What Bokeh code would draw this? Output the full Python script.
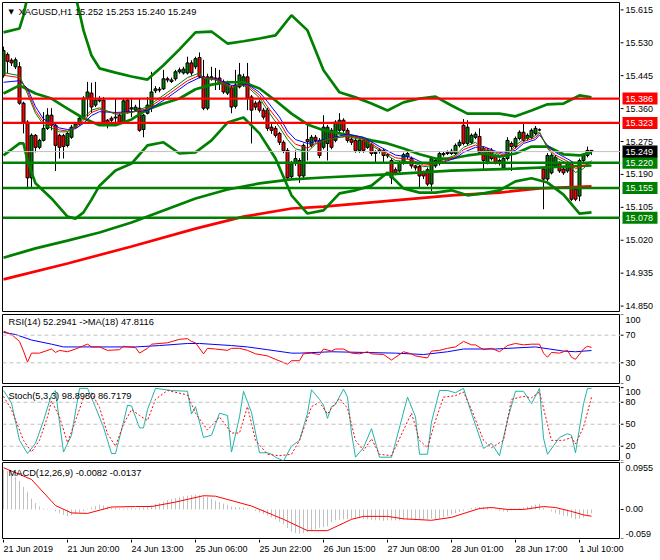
from bokeh.plotting import figure
from bokeh.layouts import column, row
from bokeh.models import Range1d, Span, Label, ColumnDataSource
from bokeh.core.properties import value
from bokeh.embed import file_html
from bokeh.resources import INLINE

# ---------------- data ----------------
title_text = "XAGUSD,H1 15.252 15.253 15.240 15.249"
rsi_text = "RSI(14) 52.2941  ->MA(18) 47.8116"
stoch_text = "Stoch(5,3,3) 98.8950 86.7179"
macd_text = "MACD(12,26,9) -0.0082 -0.0137"

opens = [15.445,15.500,15.485,15.468,15.468,15.374,15.325,15.181,15.291,15.260,
         15.278,15.309,15.343,15.317,15.291,15.290,15.265,15.286,15.312,15.320,
         15.338,15.387,15.400,15.369,15.380,15.382,15.330,15.335,15.336,15.343,
         15.325,15.382,15.362,15.356,15.361,15.306,15.348,15.364,15.406,15.410,
         15.411,15.437,15.430,15.437,15.455,15.452,15.452,15.478,15.468,15.492,
         15.442,15.361,15.437,15.439,15.439,15.429,15.400,15.413,15.366,15.416,
         15.421,15.442,15.390,15.374,15.377,15.356,15.356,15.312,15.309,15.296,
         15.273,15.252,15.184,15.218,15.226,15.186,15.280,15.265,15.286,15.278,
         15.260,15.270,15.304,15.278,15.304,15.330,15.304,15.281,15.278,15.252,
         15.278,15.260,15.268,15.247,15.250,15.252,15.241,15.226,15.202,15.199,
         15.220,15.236,15.231,15.212,15.210,15.195,15.202,15.165,15.212,15.218,
         15.244,15.247,15.244,15.244,15.265,15.317,15.270,15.273,15.286,15.288,
         15.257,15.221,15.252,15.236,15.226,15.207,15.231,15.270,15.262,15.283,
         15.299,15.283,15.286,15.296,15.305,15.204,15.178,15.194,15.212,15.218,
         15.204,15.199,15.218,15.152,15.134,15.226,15.239,15.252]
highs = [15.520,15.505,15.490,15.492,15.480,15.378,15.330,15.296,15.294,15.282,
         15.351,15.361,15.361,15.320,15.295,15.295,15.300,15.318,15.325,15.340,
         15.392,15.429,15.427,15.429,15.392,15.390,15.333,15.340,15.387,15.348,
         15.387,15.387,15.387,15.370,15.387,15.346,15.390,15.455,15.418,15.416,
         15.460,15.442,15.440,15.460,15.466,15.468,15.494,15.485,15.494,15.505,
         15.486,15.450,15.468,15.465,15.460,15.435,15.432,15.420,15.460,15.478,
         15.450,15.478,15.395,15.380,15.382,15.362,15.362,15.320,15.315,15.300,
         15.278,15.258,15.225,15.252,15.232,15.270,15.322,15.292,15.292,15.284,
         15.343,15.318,15.310,15.330,15.348,15.335,15.310,15.286,15.283,15.283,
         15.283,15.283,15.272,15.252,15.258,15.258,15.245,15.232,15.208,15.225,
         15.246,15.250,15.236,15.215,15.215,15.200,15.208,15.236,15.232,15.250,
         15.248,15.252,15.256,15.270,15.280,15.333,15.330,15.296,15.300,15.309,
         15.262,15.258,15.258,15.242,15.231,15.236,15.286,15.275,15.288,15.304,
         15.322,15.296,15.309,15.315,15.309,15.210,15.245,15.245,15.240,15.224,
         15.210,15.224,15.224,15.158,15.231,15.244,15.262,15.253]
lows = [15.440,15.452,15.470,15.462,15.370,15.296,15.152,15.155,15.247,15.255,
        15.275,15.305,15.304,15.199,15.231,15.231,15.260,15.282,15.308,15.316,
        15.335,15.338,15.348,15.364,15.376,15.320,15.309,15.325,15.317,15.320,
        15.320,15.347,15.338,15.352,15.300,15.286,15.345,15.351,15.400,15.402,
        15.408,15.428,15.426,15.432,15.450,15.448,15.448,15.445,15.462,15.438,
        15.356,15.356,15.432,15.408,15.408,15.398,15.395,15.348,15.360,15.412,
        15.416,15.356,15.270,15.356,15.350,15.332,15.302,15.295,15.285,15.266,
        15.245,15.176,15.178,15.212,15.168,15.180,15.226,15.260,15.272,15.232,
        15.255,15.226,15.255,15.273,15.300,15.298,15.272,15.266,15.246,15.246,
        15.246,15.256,15.238,15.221,15.244,15.221,15.232,15.165,15.188,15.195,
        15.215,15.230,15.205,15.200,15.155,15.178,15.160,15.147,15.207,15.213,
        15.236,15.240,15.240,15.240,15.260,15.265,15.265,15.268,15.281,15.242,
        15.199,15.216,15.226,15.216,15.213,15.202,15.226,15.199,15.257,15.278,
        15.273,15.278,15.281,15.291,15.302,15.100,15.173,15.190,15.207,15.194,
        15.189,15.194,15.121,15.121,15.121,15.221,15.234,15.240]
closes = [15.510,15.482,15.478,15.486,15.374,15.325,15.181,15.291,15.260,15.278,
          15.309,15.343,15.317,15.265,15.260,15.262,15.296,15.312,15.320,15.335,
          15.387,15.403,15.364,15.382,15.386,15.325,15.317,15.330,15.338,15.325,
          15.380,15.351,15.359,15.364,15.304,15.343,15.369,15.403,15.411,15.408,
          15.437,15.434,15.434,15.455,15.460,15.462,15.478,15.452,15.489,15.442,
          15.361,15.442,15.442,15.437,15.426,15.403,15.426,15.364,15.421,15.447,
          15.442,15.387,15.356,15.364,15.356,15.338,15.309,15.304,15.291,15.273,
          15.252,15.181,15.218,15.231,15.186,15.265,15.275,15.286,15.278,15.239,
          15.312,15.312,15.260,15.325,15.330,15.304,15.278,15.273,15.252,15.278,
          15.252,15.278,15.244,15.244,15.252,15.239,15.238,15.181,15.194,15.220,
          15.241,15.244,15.212,15.207,15.186,15.186,15.165,15.231,15.226,15.244,
          15.241,15.244,15.250,15.265,15.273,15.270,15.312,15.291,15.294,15.247,
          15.226,15.252,15.231,15.221,15.218,15.231,15.278,15.262,15.283,15.299,
          15.278,15.291,15.304,15.309,15.305,15.178,15.239,15.239,15.234,15.199,
          15.194,15.218,15.126,15.126,15.226,15.239,15.252,15.249]

# short moving averages (blue / red / green thin)
ma_bars = [0,4,6,8,10,12,14,16,18,20, 22,24,28,32,36,41,46,49,50,53,
           57,59,61,64,66,69,71,73,76,78, 81,86,90,94,98,102,105,107,110,113,
           115,118,120,123,125,128,130,133,134,136, 138,141,143,145,147]
ma_red = [15.446,15.440,15.405,15.355,15.325,15.317,15.305,15.302,15.311,15.330,
          15.350,15.358,15.348,15.350,15.360,15.395,15.432,15.446,15.440,15.436,
          15.416,15.420,15.420,15.395,15.365,15.325,15.290,15.268,15.258,15.270,
          15.280,15.290,15.282,15.256,15.233,15.228,15.214,15.216,15.224,15.236,
          15.254,15.266,15.258,15.248,15.240,15.258,15.275,15.285,15.297,15.260,
          15.240,15.224,15.205,15.212,15.220]
ma_blue = [15.428,15.432,15.412,15.365,15.333,15.322,15.310,15.306,15.308,15.322,
           15.342,15.352,15.350,15.352,15.355,15.388,15.425,15.440,15.440,15.438,
           15.420,15.420,15.423,15.402,15.378,15.338,15.302,15.280,15.270,15.275,
           15.282,15.294,15.286,15.262,15.240,15.234,15.219,15.218,15.222,15.232,
           15.247,15.260,15.262,15.250,15.245,15.252,15.270,15.280,15.292,15.265,
           15.247,15.230,15.218,15.220,15.222]
ma_green = [15.453,15.445,15.398,15.348,15.318,15.310,15.300,15.300,15.314,15.336,
            15.356,15.362,15.345,15.350,15.365,15.402,15.440,15.452,15.438,15.434,
            15.412,15.422,15.416,15.388,15.355,15.312,15.280,15.256,15.248,15.268,
            15.282,15.288,15.278,15.252,15.226,15.222,15.210,15.212,15.228,15.240,
            15.260,15.273,15.254,15.245,15.234,15.265,15.280,15.290,15.300,15.257,
            15.234,15.218,15.195,15.205,15.226]

# Bollinger bands
bb_up_bars = [0,4,5,6,8,12,16,18,19,20, 22,24,28,32,36,40,44,48,52,56,
              60,64,68,72,76,80,84,88,92,96, 100,104,108,112,116,120,124,128,132,136,
              140,144,147]
bb_up = [15.557,15.567,15.601,15.650,15.700,15.730,15.700,15.650,15.608,15.562,
         15.497,15.464,15.453,15.443,15.435,15.472,15.513,15.557,15.559,15.528,
         15.534,15.541,15.549,15.601,15.562,15.459,15.402,15.389,15.373,15.355,
         15.376,15.386,15.391,15.368,15.347,15.347,15.347,15.340,15.355,15.371,
         15.373,15.394,15.389]
bb_mid_bars = [0,4,8,12,16,20,24,28,32,36, 40,44,48,52,56,60,64,68,72,76,
               80,84,88,92,96,100,104,108,112,116, 120,124,128,132,136,140,144,147]
bb_mid = [15.399,15.420,15.399,15.386,15.360,15.335,15.317,15.317,15.332,15.358,
          15.373,15.386,15.410,15.422,15.428,15.428,15.412,15.381,15.347,15.319,
          15.304,15.296,15.288,15.278,15.270,15.257,15.242,15.231,15.231,15.239,
          15.244,15.236,15.244,15.262,15.262,15.242,15.239,15.247]
bb_low_bars = [0,4,5,6,8,12,16,18,20,22, 24,28,32,36,40,44,48,52,56,60,
               64,68,72,76,80,84,88,92,96,100, 104,108,112,116,120,124,128,132,136,140,
               144,147]
bb_low = [15.239,15.270,15.270,15.226,15.167,15.128,15.081,15.076,15.092,15.125,
          15.161,15.200,15.218,15.265,15.273,15.244,15.247,15.278,15.324,15.337,
          15.296,15.231,15.136,15.089,15.097,15.141,15.149,15.161,15.195,15.154,
          15.143,15.143,15.149,15.136,15.141,15.149,15.172,15.180,15.169,15.138,
          15.089,15.092]

# long moving averages
ma_long_g_bars = [0,8,16,24,32,40,48,56,64,72,80,96,112,128,147]
ma_long_g = [14.975,14.999,15.019,15.040,15.066,15.097,15.128,15.151,15.167,15.177,
             15.182,15.190,15.200,15.205,15.213]
ma_long_r_bars = [0,16,32,48,60,72,80,112,124,134,147]
ma_long_r = [14.919,14.960,15.004,15.050,15.081,15.102,15.107,15.136,15.143,15.154,15.159]

resistance_levels = [15.386, 15.323]
support_levels = [15.220, 15.155, 15.078]
bid_price = 15.249
price_ticks = [15.615, 15.530, 15.445, 15.360, 15.275, 15.190, 15.105, 15.020, 14.935, 14.850]

# RSI
rsi_bars = [0,2,4,5,6,7,9,12,13,14,16,18,21,22,24,26,29,30,33,34,36,37,41,44,46,47,48,50,51,53,
            56,57,59,61,63,66,68,71,72,74,75,77,79,80,82,83,85,87,89,91,92,95,97,100,102,103,106,107,
            109,111,113,114,115,117,118,120,122,124,126,128,130,132,134,135,136,137,139,141,142,143,
            145,146,147]
rsi_vals = [76,71,61,47,31,44,44,50,45,48,46,50,57,53,53,48,49,54,52,44,51,57,59,64,65,61,59,43,51,50,
            48,51,51,48,43,40,35,28,33,33,43,44,42,50,47,50,50,44,43,46,43,42,34,46,43,40,37,47,
            48,51,53,57,61,56,56,49,51,46,55,58,56,57,57,44,38,45,44,48,38,35,
            50,54,52.3]
rsi_ma_bars = [0,3,7,12,15,20,33,39,46,49,57,61,66,72,74,82,90,98,105,111,115,123,133,140,143,147]
rsi_ma_vals = [74,71,63,57,53,53,53,55,58,58,55,53,49,44,44,46,45,44,42,46,50,50,53,47,46,47.8]
rsi_levels = [30, 70]
rsi_scale_ticks = [100, 70, 30, 0]

# Stochastic
stk_bars = [0,2,4,6,8,10,12,13,14,15,17,19,21,23,25,27,28,30,31,32,34,35,36,38,42,46,47,48,50,52,
            54,56,57,59,60,62,64,66,67,68,70,72,74,76,77,79,80,81,82,83,85,86,87,88,90,92,93,94,97,98,
            101,103,104,106,107,109,111,113,115,117,120,122,124,126,128,130,132,134,135,136,139,141,142,143,
            145,146,147]
stk_vals = [96,79,28,10,24,55,90,96,53,12,35,99,99,73,46,10,10,53,76,75,45,45,70,99,96,95,64,74,32,35,
            65,62,12,60,95,66,11,11,9,5,0,20,28,65,97,84,76,58,74,77,98,87,38,5,18,44,25,5,5,25,
            87,60,9,9,53,96,96,93,99,65,17,24,7,56,95,95,78,99,31,9,32,37,35,11,
            78,99,98.9]
std_bars = [0,2,5,7,9,11,12,14,16,18,20,22,24,26,28,30,32,34,36,38,41,46,48,51,54,57,59,61,63,66,
            69,72,74,77,79,81,82,84,86,88,90,92,94,97,100,102,104,106,108,110,113,115,117,120,122,125,
            127,130,132,134,136,137,140,142,143,145,147]
std_vals = [88,70,28,12,28,60,82,60,25,55,86,93,73,37,20,50,70,62,55,84,96,90,65,42,60,38,38,74,28,9,
            7,9,28,74,80,64,72,85,72,28,14,30,9,7,42,65,28,18,55,87,89,94,70,28,18,28,
            84,88,86,94,50,28,28,32,23,46,86.7]
stoch_levels = [20, 50, 80]
stoch_scale_ticks = [100, 80, 50, 20, 0]

# MACD
macd_hist = [0.081,0.078,0.073,0.066,0.058,0.046,0.036,0.022,0.013,0.006,
             0.002,0.001,0.000,-0.004,-0.007,-0.011,-0.014,-0.012,-0.009,-0.006,
             -0.003,0.001,0.004,0.007,0.010,0.008,0.006,0.004,0.003,0.002,
             0.002,0.002,0.003,0.002,0.003,0.004,0.006,0.009,0.011,0.013,
             0.016,0.019,0.021,0.023,0.025,0.027,0.028,0.029,0.030,0.029,
             0.027,0.025,0.022,0.018,0.015,0.012,0.009,0.006,0.005,0.004,
             0.004,0.002,0.000,-0.003,-0.006,-0.009,-0.012,-0.016,-0.020,-0.025,
             -0.030,-0.038,-0.045,-0.048,-0.049,-0.048,-0.046,-0.044,-0.040,-0.037,
             -0.036,-0.034,-0.026,-0.022,-0.021,-0.020,-0.020,-0.019,-0.018,-0.018,
             -0.019,-0.020,-0.021,-0.022,-0.022,-0.023,-0.022,-0.022,-0.022,-0.022,
             -0.021,-0.020,-0.021,-0.022,-0.021,-0.021,-0.020,-0.019,-0.020,-0.019,
             -0.016,-0.013,-0.010,-0.008,-0.005,-0.003,0.000,0.003,0.004,0.005,
             0.005,0.004,0.002,-0.001,-0.003,-0.004,-0.005,-0.002,0.000,0.002,
             0.004,0.006,0.008,0.010,0.012,0.004,0.000,-0.004,-0.007,-0.010,
             -0.013,-0.014,-0.017,-0.020,-0.019,-0.016,-0.011,-0.008]
macd_sig_bars = [0,7,13,17,21,27,33,37,43,50,53,62,70,76,81,87,90,96,100,107,112,119,122,126,130,135,138,142,145,147]
macd_sig = [0.085,0.061,0.008,-0.007,-0.008,0.005,0.006,0.006,0.015,0.028,0.027,0.007,-0.020,-0.043,-0.043,
            -0.020,-0.014,-0.014,-0.019,-0.022,-0.016,0.002,0.004,0.000,0.000,0.006,0.004,-0.004,-0.011,-0.0137]
macd_scale_ticks = [0.0955, 0.0, -0.059]
macd_scale_labels = ["0.0955", "0.00", "-0.059"]

time_tick_bars = [0, 16, 32, 48, 64, 80, 96, 112, 128, 144]
time_tick_labels = ["21 Jun 2019", "21 Jun 20:00", "24 Jun 13:00", "25 Jun 06:00", "25 Jun 22:00",
                    "26 Jun 15:00", "27 Jun 08:00", "28 Jun 01:00", "28 Jun 17:00", "1 Jul 10:00"]

# ---------------- styling / layout ----------------
FONT = "Liberation Sans"
FS = "9px"
FS_T = "9.3px"
FW = 618          # chart frame width (px)
SW = 38           # right scale strip width (px)
X0, X1 = -0.25, 154.25
xr = Range1d(X0, X1)
GREEN = "#008000"
RED = "#ff0000"
SILVER = "#c0c0c0"


def make_panel(frame_h, yr, top):
    p = figure(frame_width=FW, frame_height=frame_h, x_range=xr, y_range=yr,
               output_backend="svg", toolbar_location=None,
               x_axis_location=None, y_axis_location=None,
               min_border_left=2, min_border_right=0, min_border_top=top, min_border_bottom=1,
               background_fill_color="white", border_fill_color="white")
    p.outline_line_color = "black"
    p.outline_line_width = 1
    p.grid.visible = False
    return p


def make_strip(frame_h, yr, top):
    s = figure(frame_width=SW, frame_height=frame_h, x_range=Range1d(0, SW), y_range=yr,
               output_backend="svg", toolbar_location=None,
               x_axis_location=None, y_axis_location=None,
               min_border_left=0, min_border_right=0, min_border_top=top, min_border_bottom=1,
               background_fill_color="white", border_fill_color="white")
    s.outline_line_color = None
    s.grid.visible = False
    return s


def scale_labels(s, ys, labels, label_ys=None):
    n = len(ys)
    s.segment(x0=[0] * n, y0=ys, x1=[3] * n, y1=ys, line_color="black", line_width=1)
    s.text(x=[5] * n, y=label_ys if label_ys is not None else ys, text=labels,
           text_font=value(FONT), text_font_size=FS, text_color="black",
           text_baseline="middle", text_align="left")


def price_box(s, price, color, ppu):
    h = 12.0 / ppu
    s.quad(left=2, right=37, bottom=price - h / 2, top=price + h / 2, fill_color=color, line_color=None)
    s.text(x=[5], y=[price], text=[f"{price:.3f}"], text_font=value(FONT), text_font_size=FS,
           text_color="white", text_baseline="middle", text_align="left")


def corner_text(p, text, px_top, px_left=6):
    yr = p.y_range
    y = yr.end - px_top * (yr.end - yr.start) / p.frame_height
    x = X0 + px_left * (X1 - X0) / FW
    p.add_layout(Label(x=x, y=y, text=text, text_font=FONT, text_font_size=FS_T,
                       text_color="black", text_baseline="middle", text_align="left"))


# ---- main price panel ----
MH = 309
yr_main = Range1d(14.836, 15.634)
ppu_main = MH / (15.634 - 14.836)
pm = make_panel(MH, yr_main, top=2)
sm = make_strip(MH, yr_main, top=2)

bars = list(range(len(closes)))
src = ColumnDataSource(dict(
    x=bars, o=opens, h=highs, l=lows, c=closes,
    top=[max(a, b) for a, b in zip(opens, closes)],
    bot=[min(a, b) for a, b in zip(opens, closes)],
    fill=[GREEN if c >= o else RED for o, c in zip(opens, closes)]))
pm.segment(x0="x", y0="l", x1="x", y1="h", source=src, line_color="black", line_width=1)
pm.vbar(x="x", width=0.75, top="top", bottom="bot", source=src, fill_color="fill",
        line_color="black", line_width=1)

pm.line(ma_long_r_bars, ma_long_r, line_color=RED, line_width=2.7)
pm.line(ma_long_g_bars, ma_long_g, line_color=GREEN, line_width=2.7)
pm.line(bb_up_bars, bb_up, line_color=GREEN, line_width=2.7)
pm.line(bb_mid_bars, bb_mid, line_color=GREEN, line_width=2.7)
pm.line(bb_low_bars, bb_low, line_color=GREEN, line_width=2.7)
pm.line(ma_bars, ma_blue, line_color="#0000ff", line_width=1)
pm.line(ma_bars, ma_red, line_color=RED, line_width=1)
pm.line(ma_bars, ma_green, line_color=GREEN, line_width=1)

pm.add_layout(Span(location=bid_price, dimension="width", line_color=SILVER, line_width=1))
for lv in resistance_levels:
    pm.add_layout(Span(location=lv, dimension="width", line_color=RED, line_width=2.2))
for lv in support_levels:
    pm.add_layout(Span(location=lv, dimension="width", line_color=GREEN, line_width=2.6))

scale_labels(sm, price_ticks, [f"{t:.3f}" for t in price_ticks])
for lv in resistance_levels:
    price_box(sm, lv, RED, ppu_main)
for lv in support_levels:
    price_box(sm, lv, GREEN, ppu_main)
price_box(sm, bid_price, "black", ppu_main)

pm.add_layout(Label(x=X0 + 6 * (X1 - X0) / FW, y=15.634 - 9 / ppu_main, text="\u25bc",
                    text_font="DejaVu Sans", text_font_size="7px", text_color="black",
                    text_baseline="middle", text_align="left"))
corner_text(pm, title_text, 9, px_left=16)

# ---- RSI panel ----
RH = 69
yr_rsi = Range1d(0, 100)
pr = make_panel(RH, yr_rsi, top=2)
sr = make_strip(RH, yr_rsi, top=2)
for lv in rsi_levels:
    pr.add_layout(Span(location=lv, dimension="width", line_color=SILVER, line_width=1, line_dash="4 3"))
pr.line(rsi_ma_bars, rsi_ma_vals, line_color="#0000ff", line_width=1)
pr.line(rsi_bars, rsi_vals, line_color=RED, line_width=1)
corner_text(pr, rsi_text, 7)
u = 100.0 / RH
scale_labels(sr, rsi_scale_ticks, [str(t) for t in rsi_scale_ticks],
             label_ys=[100 - 5 * u, 70, 30, 6 * u])

# ---- Stochastic panel ----
SH = 74
yr_st = Range1d(0.5, 101.5)
ps = make_panel(SH, yr_st, top=2)
ss = make_strip(SH, yr_st, top=2)
for lv in stoch_levels:
    ps.add_layout(Span(location=lv, dimension="width", line_color=SILVER, line_width=1, line_dash="4 3"))
ps.line(stk_bars, stk_vals, line_color="#20b2aa", line_width=1)
ps.line(std_bars, std_vals, line_color=RED, line_width=1, line_dash="2 2")
corner_text(ps, stoch_text, 9)
u = 101.0 / SH
scale_labels(ss, stoch_scale_ticks, [str(t) for t in stoch_scale_ticks],
             label_ys=[101.5 - 5 * u, 80, 50, 20, 0.5 + 5 * u])

# ---- MACD panel ----
DH = 76
yr_md = Range1d(-0.059, 0.0955)
pd_ = make_panel(DH, yr_md, top=1)
sd = make_strip(DH, yr_md, top=1)
pd_.segment(x0=bars, y0=[0] * len(bars), x1=bars, y1=macd_hist, line_color=SILVER, line_width=1)
pd_.line(macd_sig_bars, macd_sig, line_color=RED, line_width=1)
corner_text(pd_, macd_text, 10)
u = 0.1545 / DH
scale_labels(sd, macd_scale_ticks, macd_scale_labels,
             label_ys=[0.0955 - 5 * u, 0.0, -0.059 + 5 * u])

# ---- time strip ----
TW = FW + SW
th = figure(frame_width=TW, frame_height=18,
            x_range=Range1d(X0, X0 + TW * (X1 - X0) / FW), y_range=Range1d(0, 18),
            output_backend="svg", toolbar_location=None,
            x_axis_location=None, y_axis_location=None,
            min_border_left=2, min_border_right=0, min_border_top=0, min_border_bottom=0,
            background_fill_color="white", border_fill_color="white")
th.outline_line_color = None
th.grid.visible = False
nt = len(time_tick_bars)
th.segment(x0=time_tick_bars, y0=[18] * nt, x1=time_tick_bars, y1=[15] * nt, line_color="black", line_width=1)
th.text(x=time_tick_bars, y=[9] * nt, text=time_tick_labels, text_font=value(FONT), text_font_size=FS,
        text_color="black", text_baseline="middle", text_align="left")

layout = column(row(pm, sm, spacing=0), row(pr, sr, spacing=0), row(ps, ss, spacing=0),
                row(pd_, sd, spacing=0), th, spacing=0)
open("out.html", "w").write(file_html(layout, INLINE))
